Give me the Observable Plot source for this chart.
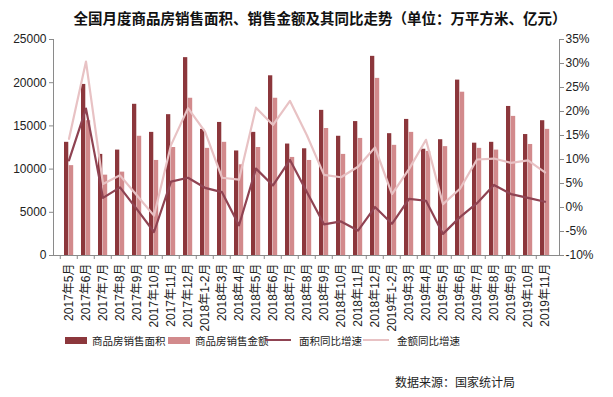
<!DOCTYPE html>
<html>
<head>
<meta charset="utf-8">
<script src="https://cdn.jsdelivr.net/npm/d3@7"></script>
<script src="https://cdn.jsdelivr.net/npm/@observablehq/plot@0.6"></script>
<style>
  html, body { margin: 0; padding: 0; background: #fff; }
  body { width: 613px; height: 397px; position: relative; overflow: hidden;
         font-family: "Liberation Sans", "Noto Sans CJK SC", sans-serif; color: #222; }
  #title { position: absolute; left: 0; width: 640px; top: 7px; text-align: center;
           font-family: "Noto Sans CJK SC", sans-serif; font-weight: bold; font-size: 14.5px; color: #111; }
  #chart { position: absolute; left: 0; top: 30px; }
  #legend { position: absolute; left: 0; top: 331px; width: 613px; height: 20px; font-size: 10.5px;
            font-family: "Noto Sans CJK SC", sans-serif; color: #222; }
  .item { position: absolute; top: 0; display: flex; align-items: center; height: 18px; white-space: nowrap; }
  .sw { display: inline-block; margin-right: 5px; }
  #caption { position: absolute; right: 98px; top: 373px; font-size: 12px;
             font-family: "Noto Sans CJK SC", sans-serif; color: #222; }
</style>
</head>
<body>
<div id="title">全国月度商品房销售面积、销售金额及其同比走势（单位：万平方米、亿元）</div>
<div id="chart"></div>
<div id="legend"></div>
<div id="caption">数据来源：国家统计局</div>
<script>
const categories = ["2017年5月","2017年6月","2017年7月","2017年8月","2017年9月","2017年10月","2017年11月","2017年12月",
  "2018年1-2月","2018年3月","2018年4月","2018年5月","2018年6月","2018年7月","2018年8月","2018年9月","2018年10月","2018年11月","2018年12月",
  "2019年1-2月","2019年3月","2019年4月","2019年5月","2019年6月","2019年7月","2019年8月","2019年9月","2019年10月","2019年11月"];
const areaValues = [13100,19800,11700,12200,17500,14250,16300,22900,14600,15400,12100,14250,20800,12900,12350,16800,13800,15500,23050,14100,15750,12300,13400,20300,13000,13100,17250,14000,15600];
const amountValues = [10400,15600,9300,9650,13800,11000,12500,18200,12400,13100,10500,12500,18200,11350,11000,14700,11700,13550,20500,12750,14250,12050,12600,18900,12400,12200,16100,12850,14600];
const areaYoY = [9.8,20.6,2.0,4.2,-0.4,-5.1,5.4,6.2,4.1,3.2,-3.7,8.1,4.6,9.9,3.2,-3.5,-2.9,-4.8,0.1,-3.4,1.8,1.4,-5.5,-2.0,0.9,4.7,2.8,2.0,1.2];
const amountYoY = [14.3,30.4,4.9,6.7,2.5,-1.7,13.0,20.7,15.8,6.2,5.8,20.8,17.2,22.2,15.0,6.8,6.3,8.5,12.5,2.8,8.0,14.1,0.7,3.9,10.0,10.2,9.3,9.8,7.3];
const leftTicks = [0,5000,10000,15000,20000,25000];
const rightTicks = [-10,-5,0,5,10,15,20,25,30,35];
const seriesNames = ["商品房销售面积","商品房销售金额","面积同比增速","金额同比增速"];
const seriesColors = ["#8c373c","#d28a8c","#8f4352","#e8c2c4"];

const leftMax = 25000, pctMin = -10, pctMax = 35;
const toLeft = p => (p - pctMin) / (pctMax - pctMin) * leftMax;
const toPct = v => v / leftMax * (pctMax - pctMin) + pctMin;

const data = categories.map((c, i) => ({
  cat: c, area: areaValues[i], amount: amountValues[i], areaYoY: areaYoY[i], amountYoY: amountYoY[i]
}));

const W = 613, mL = 53, mR = 54;
const bw = (W - mL - mR) / categories.length;
const axisColor = "#8a8a8a";

const chart = Plot.plot({
  width: W, height: 312,
  marginTop: 9, marginBottom: 87, marginLeft: mL, marginRight: mR,
  style: { fontFamily: "'Liberation Sans', 'Noto Sans CJK SC', sans-serif", fontSize: "12px", color: "#222", background: "transparent" },
  x: { domain: categories, padding: 0 },
  y: { domain: [0, leftMax] },
  marks: [
    Plot.barY(data, { x: "cat", y: "area", fill: seriesColors[0], insetLeft: 4, insetRight: bw / 2 }),
    Plot.barY(data, { x: "cat", y: "amount", fill: seriesColors[1], insetLeft: bw / 2, insetRight: 3.8 }),
    Plot.line(data, { x: "cat", y: d => toLeft(d.amountYoY), stroke: seriesColors[3], strokeWidth: 2.2 }),
    Plot.line(data, { x: "cat", y: d => toLeft(d.areaYoY), stroke: seriesColors[2], strokeWidth: 2.2 }),
    Plot.ruleY([0], { stroke: axisColor }),
    Plot.frame({ anchor: "left", stroke: axisColor }),
    Plot.frame({ anchor: "right", stroke: axisColor }),
    Plot.axisY(leftTicks, { anchor: "left", tickSize: 4, tickPadding: 3, stroke: axisColor, fill: "#222", label: null,
      tickFormat: d3.format("d") }),
    Plot.axisY(rightTicks.map(toLeft), { anchor: "right", tickSize: 4, tickPadding: 2, stroke: axisColor, fill: "#222", label: null,
      tickFormat: v => Math.round(toPct(v)) + "%" }),
    Plot.axisX({ tickSize: 0, tickRotate: -90, tickPadding: 8, fill: "#222", label: null }),
    Plot.axisX({ tickSize: 4, text: null, dx: -bw / 2, stroke: axisColor, label: null })
  ]
});
document.getElementById("chart").appendChild(chart);

// legend
const legend = document.getElementById("legend");
const legendX = [65, 168, 265, 363];
seriesNames.forEach((name, i) => {
  const item = document.createElement("div");
  item.className = "item";
  item.style.left = legendX[i] + "px";
  const sw = document.createElement("span");
  sw.className = "sw";
  if (i < 2) { sw.style.width = "22px"; sw.style.height = "7px"; }
  else { sw.style.width = "26px"; sw.style.height = "2px"; sw.style.marginRight = "8px"; }
  sw.style.background = seriesColors[i];
  item.appendChild(sw);
  const t = document.createElement("span");
  t.textContent = name;
  item.appendChild(t);
  legend.appendChild(item);
});
</script>
</body>
</html>
